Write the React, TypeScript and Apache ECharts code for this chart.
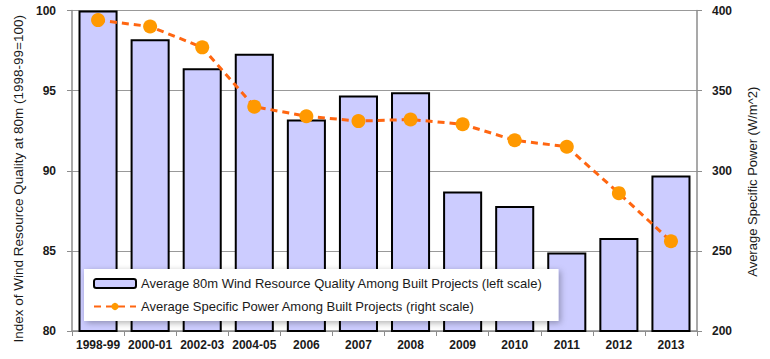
import React, { useEffect, useRef } from "react";
import * as echarts from "echarts";

const categories = ["1998-99", "2000-01", "2002-03", "2004-05", "2006", "2007", "2008", "2009", "2010", "2011", "2012", "2013"];
const windQuality = [100, 98.2, 96.4, 97.3, 93.2, 94.7, 94.9, 88.7, 87.8, 84.9, 85.8, 89.7];
const specificPower = [394, 390, 377, 340, 334, 331, 332, 329, 319, 315, 286, 256];
const leftAxis = { min: 80, max: 100, interval: 5 };
const rightAxis = { min: 200, max: 400, interval: 50 };
const barName = "Average 80m Wind Resource Quality Among Built Projects (left scale)";
const lineName = "Average Specific Power Among Built Projects (right scale)";
const leftTitle = "Index of Wind Resource Quality at 80m (1998-99=100)";
const rightTitle = "Average Specific Power (W/m^2)";

const FONT = "'Liberation Sans', Arial, sans-serif";
const AXIS_COLOR = "#8c8c8c";

export default function App() {
  const ref = useRef<HTMLDivElement>(null);
  useEffect(() => {
    if (!ref.current) return;
    const chart = echarts.init(ref.current, undefined, { renderer: "svg" });
    chart.setOption({
      animation: false,
      textStyle: { fontFamily: FONT },
      grid: { left: 72, right: 73, top: 10.5, bottom: 28, containLabel: false },
      legend: {
        orient: "vertical",
        left: 84,
        top: 269,
        padding: [8, 16, 8, 9],
        itemGap: 10,
        itemWidth: 42,
        itemHeight: 9,
        backgroundColor: "#ffffff",
        shadowBlur: 6,
        shadowColor: "rgba(0,0,0,0.3)",
        shadowOffsetX: 2,
        shadowOffsetY: 2,
        textStyle: { fontFamily: FONT, fontSize: 13, color: "#1a1a1a" },
        data: [barName, lineName],
      },
      xAxis: {
        type: "category",
        data: categories,
        axisLine: { lineStyle: { color: AXIS_COLOR, width: 1.5 } },
        axisTick: { show: true, alignWithLabel: false, length: 5, lineStyle: { color: AXIS_COLOR } },
        axisLabel: { color: "#1a1a1a", fontWeight: "bold", fontSize: 12, margin: 8, interval: 0 },
      },
      yAxis: [
        {
          type: "value",
          min: leftAxis.min,
          max: leftAxis.max,
          interval: leftAxis.interval,
          name: leftTitle,
          nameLocation: "middle",
          nameGap: 46,
          nameTextStyle: { fontSize: 13.5, color: "#1a1a1a", fontFamily: FONT, padding: [0, 16, 0, 0] },
          axisLine: { show: true, lineStyle: { color: AXIS_COLOR, width: 1.5 } },
          axisTick: { show: true, length: 5, lineStyle: { color: AXIS_COLOR } },
          axisLabel: { color: "#1a1a1a", fontWeight: "bold", fontSize: 12, margin: 16 },
          splitLine: { show: true, lineStyle: { color: "#999999", width: 1 } },
        },
        {
          type: "value",
          position: "right",
          min: rightAxis.min,
          max: rightAxis.max,
          interval: rightAxis.interval,
          name: rightTitle,
          nameLocation: "middle",
          nameGap: 49,
          nameRotate: 90,
          nameTextStyle: { fontSize: 13, color: "#1a1a1a", fontFamily: FONT, padding: [0, 22, 0, 0] },
          axisLine: { show: true, lineStyle: { color: AXIS_COLOR, width: 1.5 } },
          axisTick: { show: true, length: 5, lineStyle: { color: AXIS_COLOR } },
          axisLabel: { color: "#1a1a1a", fontWeight: "bold", fontSize: 12, margin: 15 },
          splitLine: { show: false },
        },
      ],
      series: [
        {
          name: barName,
          type: "bar",
          yAxisIndex: 0,
          data: windQuality,
          barCategoryGap: "25%",
          itemStyle: { color: "#ccccff", borderColor: "#000000", borderWidth: 2 },
        },
        {
          name: lineName,
          type: "line",
          yAxisIndex: 1,
          data: specificPower,
          symbol: "circle",
          symbolSize: 14,
          itemStyle: { color: "#ff9900" },
          lineStyle: { color: "#ff6611", width: 3, type: [7, 5] },
          z: 5,
        },
      ],
    });
    return () => chart.dispose();
  }, []);
  return <div ref={ref} style={{ position: "absolute", left: 0, top: 0, width: 770, height: 359 }} />;
}
